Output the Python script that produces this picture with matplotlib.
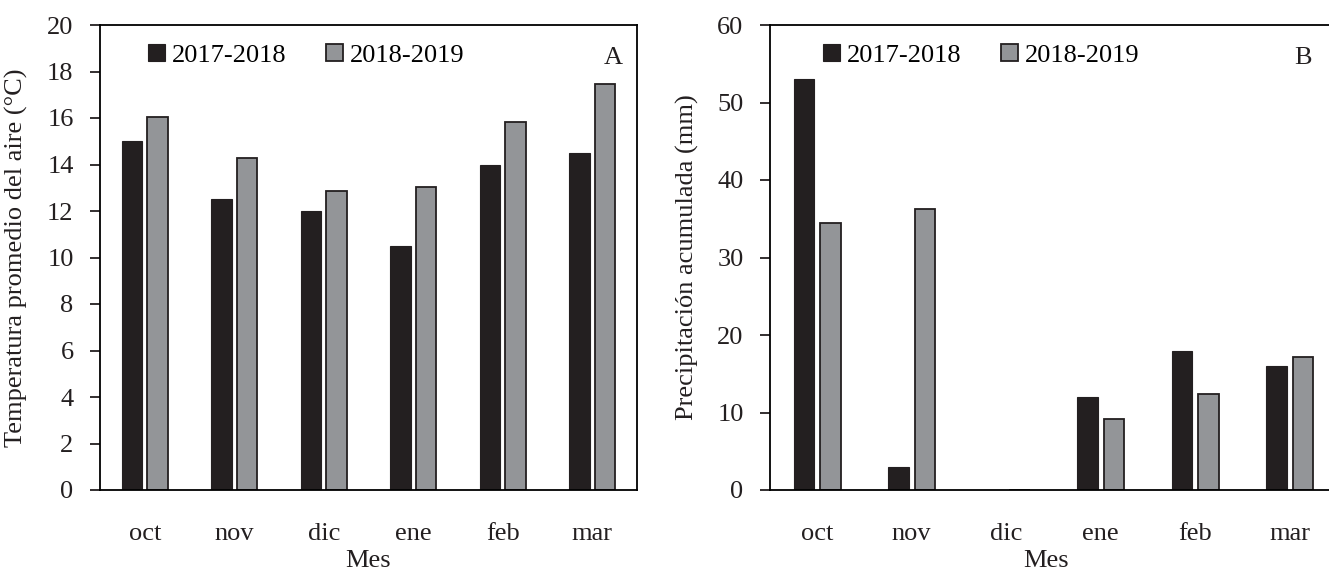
import matplotlib
matplotlib.use("Agg")
import matplotlib.pyplot as plt
import numpy as np

meses = ["oct", "nov", "dic", "ene", "feb", "mar"]
temporadas = ["2017-2018", "2018-2019"]

# temperatura media del aire (°C)
temp_1718 = [15.0, 12.5, 12.0, 10.5, 14.0, 14.5]
temp_1819 = [16.05, 14.3, 12.88, 13.05, 15.83, 17.47]

# precipitación acumulada (mm)
pp_1718 = [53.0, 3.0, 0.0, 12.0, 18.0, 16.0]
pp_1819 = [34.5, 36.3, 0.0, 9.1, 12.4, 17.2]

negro = "#231f20"
gris = "#939598"

plt.rcParams["font.family"] = ["Liberation Serif", "DejaVu Serif"]
plt.rcParams["font.size"] = 19
plt.rcParams["axes.linewidth"] = 1.3

W, H = 1329, 573
fig = plt.figure(figsize=(W / 100, H / 100), dpi=100)


def panel(rect, a, b, ymax, ystep, ylabel, letra, off, ancho, leg_x, ylab_x):
    ax = fig.add_axes(rect)
    x = np.arange(len(meses))
    ax.bar(x - off, a, ancho, color=negro, edgecolor=negro, linewidth=0.8,
           label=temporadas[0])
    ax.bar(x + off, b, ancho, color=gris, edgecolor=negro, linewidth=1.3,
           label=temporadas[1])
    ax.set_xlim(-0.5, len(meses) - 0.5)
    ax.set_ylim(0, ymax)
    ax.set_yticks(np.arange(0, ymax + 0.1, ystep))
    ax.set_xticks(x)
    ax.set_xticklabels(meses)
    ax.tick_params(axis="y", direction="out", length=7, width=1.3, pad=12,
                   colors="#231f20")
    ax.tick_params(axis="x", length=0, pad=24, colors="#231f20")
    ax.set_xlabel("Mes", color="#231f20")
    ax.set_ylabel(ylabel, color="#231f20")
    ax.yaxis.set_label_coords(ylab_x, 0.5)
    ax.text(0.955, 0.93, letra, transform=ax.transAxes, ha="center",
            va="center", fontsize=19, color="#231f20")
    ax.legend(loc="center left", bbox_to_anchor=(leg_x, 0.935), ncol=2,
              frameon=False, handlelength=0.65, handleheight=0.65,
              handletextpad=0.25, columnspacing=1.5, borderaxespad=0,
              fontsize=19)
    return ax


axA = panel([100 / W, 1 - 490 / H, 537 / W, 465 / H], temp_1718, temp_1819,
            20, 2, "Temperatura promedio del aire (°C)", "A",
            0.142, 0.229, 0.07, -0.135)
axB = panel([770 / W, 1 - 490 / H, 567 / W, 465 / H], pp_1718, pp_1819,
            60, 10, "Precipitación acumulada (mm)", "B",
            0.138, 0.217, 0.075, -0.125)
axA.xaxis.set_label_coords(0.5, -0.128)
axB.xaxis.set_label_coords(0.487, -0.128)
axB.texts[0].set_position((0.94, 0.93))

fig.savefig("out.png", dpi=100)
